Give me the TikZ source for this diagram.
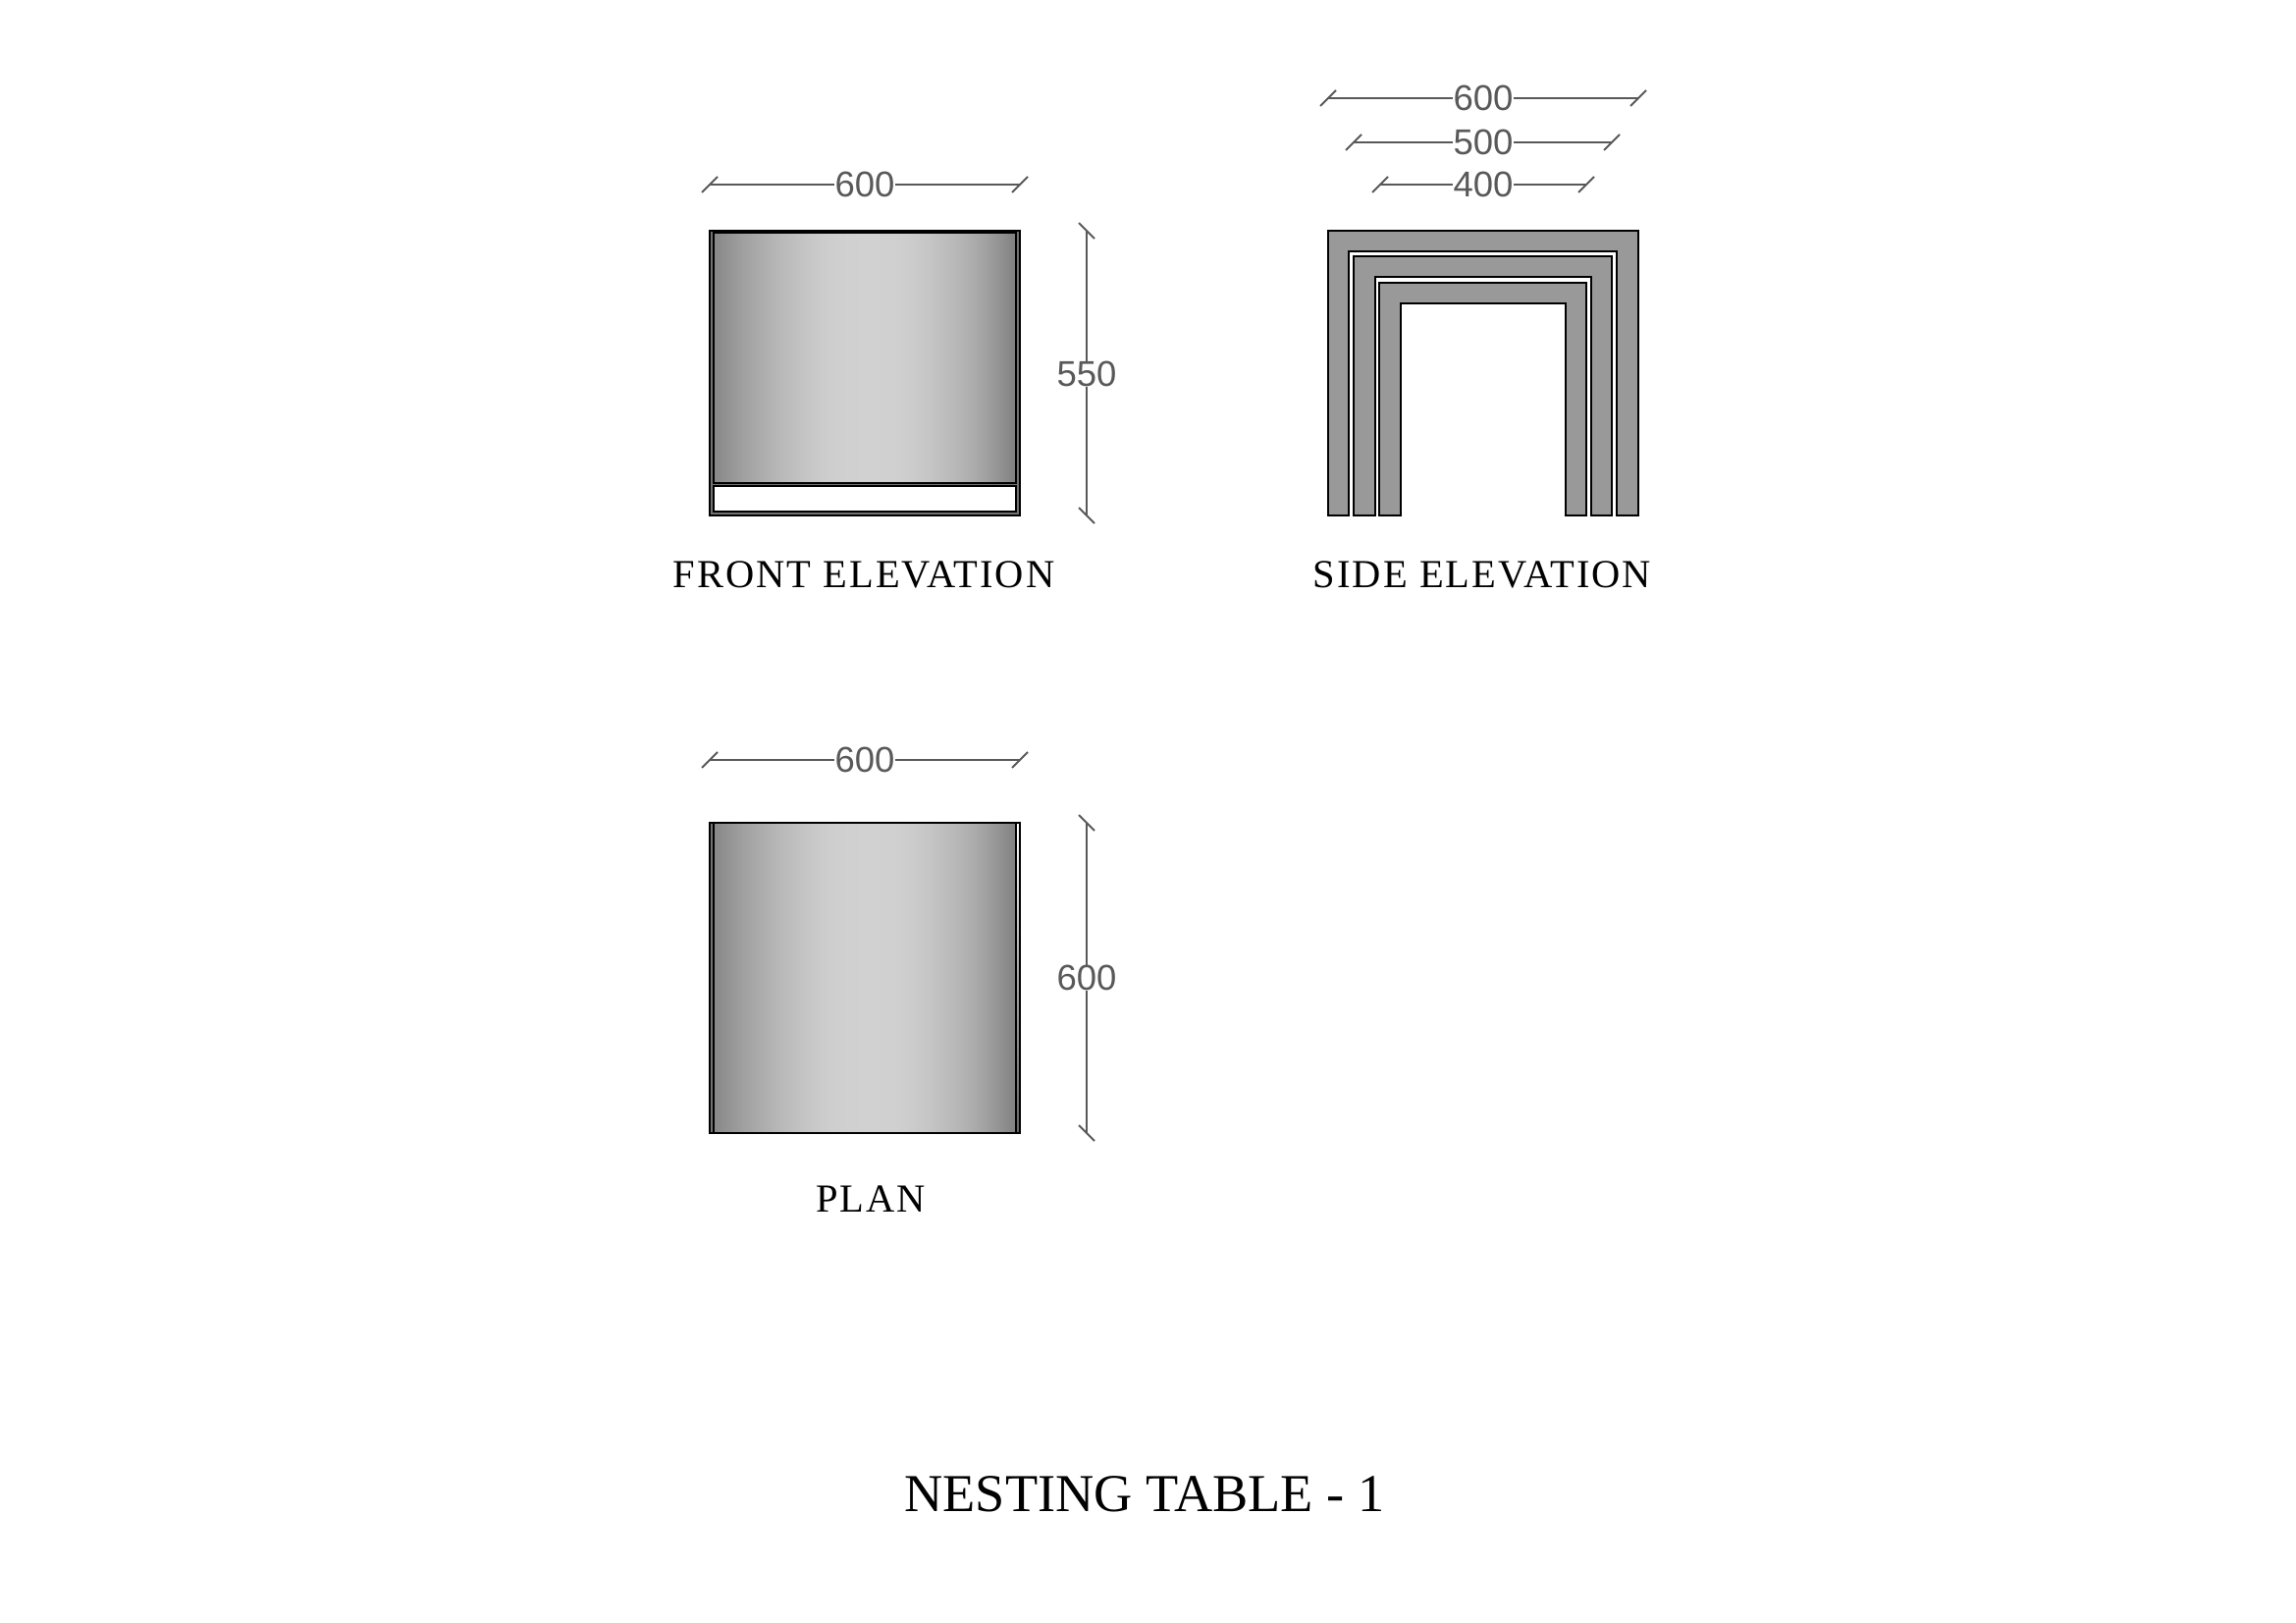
\documentclass[tikz,border=0pt]{standalone}
\usepackage{fontspec}
\usepackage{xcolor}
\usepackage{tikz}
\usetikzlibrary{
    calc,
    positioning
}
\setmainfont{Liberation Serif}
\newfontfamily\dimfont{Liberation Sans}
\newfontfamily\capfont[LetterSpace=5]{Liberation Serif}
\definecolor{dimgray}{HTML}{595959}
\definecolor{legfill}{HTML}{999999}
\pgfdeclarehorizontalshading{tabletop}{100bp}{
    color(0bp)=(black!47); color(25bp)=(black!47); color(27.5bp)=(black!42);
    color(30bp)=(black!37); color(32.5bp)=(black!33); color(35bp)=(black!29);
    color(37.5bp)=(black!26); color(40bp)=(black!23); color(42.5bp)=(black!20.5);
    color(45bp)=(black!19); color(50bp)=(black!18); color(55bp)=(black!18.5);
    color(57.5bp)=(black!20); color(60bp)=(black!22); color(62.5bp)=(black!25);
    color(65bp)=(black!28); color(67.5bp)=(black!32); color(70bp)=(black!37);
    color(72.5bp)=(black!43); color(75bp)=(black!50); color(100bp)=(black!50)}
\pgfdeclareverticalshading{platestrip}{100bp}{
    color(0bp)=(black!60); color(25bp)=(black!60); color(50bp)=(black!35);
    color(75bp)=(white); color(100bp)=(white)}
\tikzset{
    dimline/.style={draw=dimgray, line width=2pt},
    dimtext/.style={inner sep=0pt, text=dimgray, font=\dimfont\fontsize{36.5}{37}\selectfont},
    caption/.style={inner sep=0pt, font=\capfont\fontsize{40.5}{41}\selectfont},
    titletext/.style={inner sep=0pt, font=\fontsize{54.3}{55}\selectfont},
    outline/.style={draw=black, line width=2.2pt},
    legpart/.style={draw=black, line width=2pt, fill=legfill, line join=miter}
}

\begin{document}
\begin{tikzpicture}[x=1pt, y=-1pt]
    \useasboundingbox (0, 0) rectangle (2339, 1653);

    % front elevation
    \fill[black!55] (723, 235) rectangle (1039, 525);
    \shade[shading=tabletop] (727, 237) rectangle (1035, 492);
    \fill[white] (727, 495) rectangle (1035, 521);
    \draw[outline] (723, 235) rectangle (1039, 525);
    \draw[outline] (727, 237) rectangle (1035, 492);
    \draw[outline] (727, 495) rectangle (1035, 521);

    % side elevation, outer table to inner table
    \draw[legpart] (1353, 525) -- (1353, 235) -- (1669, 235) -- (1669, 525) -- (1647, 525) -- (1647, 256) -- (1374, 256) -- (1374, 525) -- cycle;
    \draw[legpart] (1379, 525) -- (1379, 261) -- (1642, 261) -- (1642, 525) -- (1621, 525) -- (1621, 282) -- (1401, 282) -- (1401, 525) -- cycle;
    \draw[legpart] (1405, 525) -- (1405, 288) -- (1616, 288) -- (1616, 525) -- (1595, 525) -- (1595, 309) -- (1427, 309) -- (1427, 525) -- cycle;

    % plan
    \fill[black!55] (723, 838) rectangle (727, 1154);
    \shade[shading=platestrip] (1035, 838) rectangle (1039, 1154);
    \shade[shading=tabletop] (727, 838) rectangle (1035, 1154);
    \draw[outline] (723, 838) rectangle (1039, 1154);
    \draw[outline] (727, 838) -- (727, 1154);
    \draw[outline] (1035, 838) -- (1035, 1154);

    % dimension nodes
    \node[dimtext] (frontw) at (881, 188) {600};
    \node[dimtext] (fronth) at (1107, 381) {550};
    \node[dimtext] (sidea) at (1511, 100) {600};
    \node[dimtext] (sideb) at (1511, 145) {500};
    \node[dimtext] (sidec) at (1511, 188) {400};
    \node[dimtext] (planw) at (881, 774) {600};
    \node[dimtext] (planh) at (1107, 996) {600};

    \coordinate (frontwl) at (723, 188);
    \coordinate (frontwr) at (1039, 188);
    \coordinate (fronthu) at (1107, 235);
    \coordinate (fronthd) at (1107, 525);
    \coordinate (sideal) at (1353, 100);
    \coordinate (sidear) at (1669, 100);
    \coordinate (sidebl) at (1379, 145);
    \coordinate (sidebr) at (1642, 145);
    \coordinate (sidecl) at (1406, 188);
    \coordinate (sidecr) at (1616, 188);
    \coordinate (planwl) at (723, 774);
    \coordinate (planwr) at (1039, 774);
    \coordinate (planhu) at (1107, 838);
    \coordinate (planhd) at (1107, 1154);

    % dimension lines with their ticks
    \draw[dimline]
    (frontwl) -- (frontw) (frontw) -- (frontwr)
    (fronthu) -- (fronth) (fronth) -- (fronthd)
    (sideal) -- (sidea) (sidea) -- (sidear)
    (sidebl) -- (sideb) (sideb) -- (sidebr)
    (sidecl) -- (sidec) (sidec) -- (sidecr)
    (planwl) -- (planw) (planw) -- (planwr)
    (planhu) -- (planh) (planh) -- (planhd);
    \draw[dimline]
    ($(frontwl)+(-8, 8)$) -- ($(frontwl)+(8, -8)$)
    ($(frontwr)+(-8, 8)$) -- ($(frontwr)+(8, -8)$)
    ($(sideal)+(-8, 8)$) -- ($(sideal)+(8, -8)$)
    ($(sidear)+(-8, 8)$) -- ($(sidear)+(8, -8)$)
    ($(sidebl)+(-8, 8)$) -- ($(sidebl)+(8, -8)$)
    ($(sidebr)+(-8, 8)$) -- ($(sidebr)+(8, -8)$)
    ($(sidecl)+(-8, 8)$) -- ($(sidecl)+(8, -8)$)
    ($(sidecr)+(-8, 8)$) -- ($(sidecr)+(8, -8)$)
    ($(planwl)+(-8, 8)$) -- ($(planwl)+(8, -8)$)
    ($(planwr)+(-8, 8)$) -- ($(planwr)+(8, -8)$)
    ($(fronthu)+(-8, -8)$) -- ($(fronthu)+(8, 8)$)
    ($(fronthd)+(-8, -8)$) -- ($(fronthd)+(8, 8)$)
    ($(planhu)+(-8, -8)$) -- ($(planhu)+(8, 8)$)
    ($(planhd)+(-8, -8)$) -- ($(planhd)+(8, 8)$);

    % captions
    \node[caption] (frontcap) at (880, 585) {FRONT ELEVATION};
    \node[caption] (sidecap) at (1510, 585) {SIDE ELEVATION};
    \node[caption] (plancap) at (887, 1221) {PLAN};
    \node[titletext] (title) at (1166, 1522) {NESTING TABLE - 1};
\end{tikzpicture}
\end{document}
